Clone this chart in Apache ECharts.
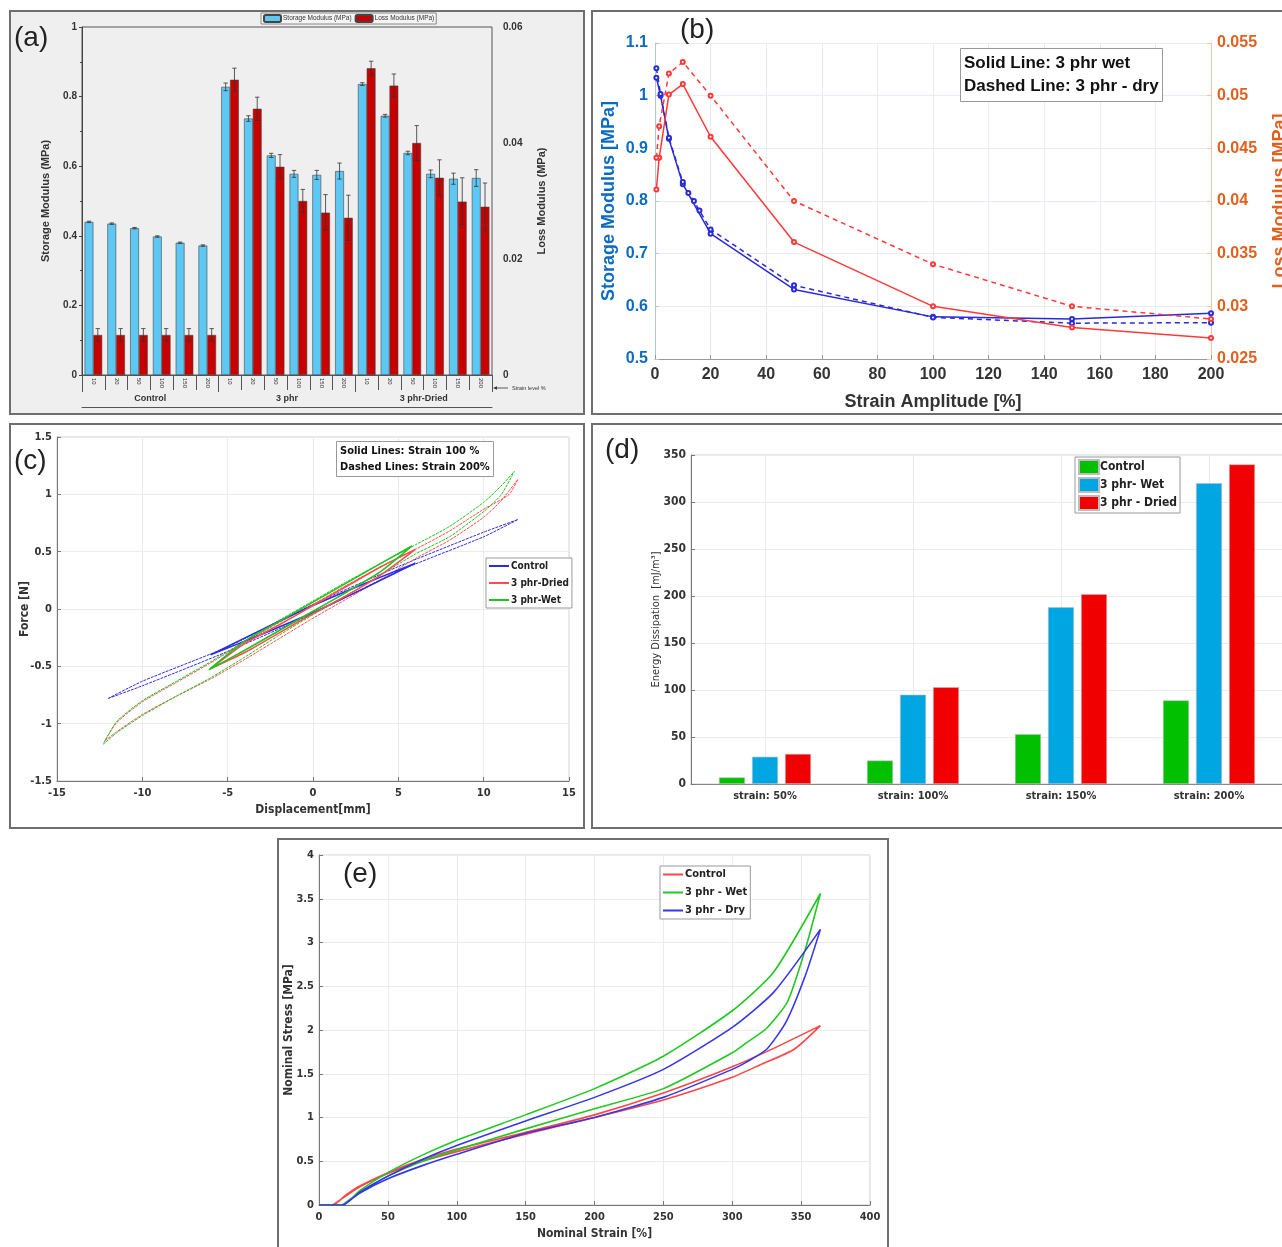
<!DOCTYPE html>
<html>
<head>
<meta charset="utf-8">
<script src="https://cdn.jsdelivr.net/npm/echarts@6/dist/echarts.min.js"></script>
<style>
  html, body { margin: 0; padding: 0; background: #fff; width: 1282px; height: 1247px; overflow: hidden; position: relative; }
  .panel { position: absolute; box-sizing: border-box; border: 2px solid #6e6e6e; overflow: hidden; background: #fff; }
  .panel > div { width: 100%; height: 100%; }
</style>
</head>
<body>
<div class="panel" style="left:9px;top:10px;width:576px;height:405px;background:#efefef"><div id="chartA"></div></div>
<div class="panel" style="left:591px;top:10px;width:700px;height:405px"><div id="chartB"></div></div>
<div class="panel" style="left:9px;top:423px;width:576px;height:406px"><div id="chartC"></div></div>
<div class="panel" style="left:591px;top:423px;width:700px;height:406px"><div id="chartD"></div></div>
<div class="panel" style="left:277px;top:838px;width:612px;height:420px"><div id="chartE"></div></div>
<script>
// ---- (a) DMA bars
const strainLevels = ['10', '20', '50', '100', '150', '200'];
const sampleGroups = ['Control', '3 phr', '3 phr-Dried'];
const storageMod = [0.440, 0.435, 0.422, 0.398, 0.380, 0.372,
                    0.828, 0.737, 0.631, 0.578, 0.575, 0.586,
                    0.836, 0.745, 0.638, 0.578, 0.564, 0.566];
const storageErr = [0.002, 0.002, 0.002, 0.002, 0.002, 0.002,
                    0.011, 0.008, 0.006, 0.010, 0.013, 0.023,
                    0.004, 0.004, 0.005, 0.011, 0.016, 0.024];
const lossMod = [0.0069, 0.0069, 0.0069, 0.0069, 0.0069, 0.0069,
                 0.0509, 0.0459, 0.0359, 0.0300, 0.0280, 0.0271,
                 0.0529, 0.0499, 0.0400, 0.0340, 0.0299, 0.0290];
const lossErr = [0.0011, 0.0011, 0.0011, 0.0011, 0.0011, 0.0011,
                 0.0020, 0.0020, 0.0021, 0.0020, 0.0031, 0.0039,
                 0.0012, 0.0020, 0.0030, 0.0031, 0.0041, 0.0041];

// ---- (b) strain sweep
const storageWet = [[0.5, 1.034], [2, 1.0], [5, 0.918], [10, 0.832], [20, 0.738], [50, 0.632], [100, 0.58], [150, 0.576], [200, 0.587]];
const storageDry = [[0.5, 1.052], [2, 1.003], [5, 0.92], [10, 0.836], [12, 0.815], [14, 0.8], [16, 0.782], [20, 0.746], [50, 0.64], [100, 0.579], [150, 0.568], [200, 0.569]];
const lossWet = [[0.5, 0.0411], [1.5, 0.0441], [5, 0.0501], [10, 0.0511], [20, 0.0461], [50, 0.0361], [100, 0.030], [150, 0.028], [200, 0.027]];
const lossDry = [[0.5, 0.0441], [1.5, 0.0471], [5, 0.0521], [10, 0.0532], [20, 0.050], [50, 0.040], [100, 0.034], [150, 0.030], [200, 0.0288]];

// ---- (c) force-displacement loops
const control100 = [[-6, -0.40], [-3, -0.22], [0, -0.03], [3, 0.18], [6, 0.40], [3, 0.22], [0, 0.03], [-3, -0.18], [-6, -0.40]];
const dried100 = [[-6, -0.52], [-4, -0.38], [-2, -0.21], [0, -0.04], [2, 0.12], [4, 0.30], [6, 0.52], [4, 0.37], [2, 0.20], [0, 0.03], [-2, -0.14], [-4, -0.30], [-6, -0.52]];
const wet100 = [[-6.1, -0.53], [-4, -0.36], [-2, -0.19], [0, -0.02], [2, 0.15], [4, 0.33], [5.8, 0.55], [4, 0.40], [2, 0.23], [0, 0.06], [-2, -0.11], [-4, -0.28], [-6.1, -0.53]];
const control200 = [[-12, -0.78], [-10, -0.67], [-5, -0.37], [0, -0.04], [5, 0.33], [10, 0.63], [12, 0.78], [10, 0.67], [5, 0.37], [0, 0.04], [-5, -0.33], [-10, -0.63], [-12, -0.78]];
const dried200 = [[-12.2, -1.15], [-11.5, -1.07], [-10, -0.92], [-8, -0.76], [-6, -0.61], [-4, -0.44], [-2, -0.26], [0, -0.08], [2, 0.09], [4, 0.26], [6, 0.44], [8, 0.60], [10, 0.80], [11, 0.94], [12, 1.13],
                  [11.5, 1.00], [10, 0.87], [8, 0.68], [6, 0.52], [4, 0.37], [2, 0.21], [0, 0.04], [-2, -0.12], [-4, -0.29], [-6, -0.47], [-8, -0.64], [-10, -0.81], [-11.5, -0.99], [-12.2, -1.15]];
const wet200 = [[-12.3, -1.18], [-11.5, -1.08], [-10, -0.93], [-8, -0.76], [-6, -0.60], [-4, -0.42], [-2, -0.23], [0, -0.05], [2, 0.12], [4, 0.30], [6, 0.48], [8, 0.63], [10, 0.85], [11, 0.99], [11.8, 1.20],
                [11, 1.07], [10, 0.93], [8, 0.72], [6, 0.56], [4, 0.40], [2, 0.24], [0, 0.07], [-2, -0.10], [-4, -0.28], [-6, -0.46], [-8, -0.63], [-10, -0.80], [-11.5, -0.98], [-12.3, -1.18]];

// ---- (d) energy dissipation
const strainCats = ['strain: 50%', 'strain: 100%', 'strain: 150%', 'strain: 200%'];
const energyControl = [7, 25, 53, 89];
const energyWet = [29, 95, 188, 320];
const energyDried = [32, 103, 202, 340];

// ---- (e) stress-strain cycles
const cycleControl = [[0, 0], [10, 0], [20, 0.12], [30, 0.22], [50, 0.37], [75, 0.52], [100, 0.64], [150, 0.83], [200, 1.03], [250, 1.28], [300, 1.58], [330, 1.79], [364, 2.05],
                      [345, 1.78], [320, 1.60], [300, 1.46], [250, 1.20], [200, 1.0], [150, 0.81], [100, 0.61], [75, 0.50], [50, 0.36], [30, 0.21], [10, 0]];
const cycleWet = [[0, 0], [17, 0], [30, 0.17], [50, 0.37], [75, 0.57], [100, 0.74], [150, 1.03], [200, 1.33], [250, 1.70], [300, 2.22], [330, 2.66], [364, 3.56],
                  [353, 2.92], [340, 2.32], [325, 2.02], [310, 1.85], [300, 1.74], [250, 1.33], [200, 1.10], [150, 0.87], [100, 0.63], [75, 0.50], [50, 0.33], [30, 0.15], [17, 0]];
const cycleDry = [[0, 0], [17, 0], [30, 0.15], [50, 0.33], [75, 0.52], [100, 0.68], [150, 0.96], [200, 1.23], [250, 1.55], [300, 2.03], [330, 2.43], [364, 3.15],
                  [353, 2.62], [339, 2.09], [325, 1.78], [310, 1.63], [300, 1.55], [250, 1.23], [200, 1.0], [150, 0.82], [100, 0.58], [75, 0.45], [50, 0.30], [30, 0.14], [18, 0]];

const NARROW = "'Liberation Sans Narrow', 'DejaVu Sans Condensed', 'Liberation Sans', sans-serif";
const ARIAL = "'Liberation Sans', Arial, sans-serif";

function panelLabel(text, left, top) {
  return { text: text, left: left, top: top, padding: 0, textStyle: { fontSize: 28, fontWeight: 'normal', color: '#222', fontFamily: ARIAL } };
}

// error bar drawn at bar centre (offset from category centre)
function errorBars(offset) {
  return function (params, api) {
    const i = api.value(0), v = api.value(1), e = api.value(2);
    const top = api.coord([i, v + e]);
    const bot = api.coord([i, v - e]);
    const x = top[0] + offset;
    const style = { stroke: '#333', lineWidth: 0.8 };
    return {
      type: 'group',
      children: [
        { type: 'line', shape: { x1: x, y1: top[1], x2: x, y2: bot[1] }, style: style },
        { type: 'line', shape: { x1: x - 2.2, y1: top[1], x2: x + 2.2, y2: top[1] }, style: style },
        { type: 'line', shape: { x1: x - 2.2, y1: bot[1], x2: x + 2.2, y2: bot[1] }, style: style }
      ]
    };
  };
}

// ================= (a)
const chartA = echarts.init(document.getElementById('chartA'));
const catLabels = sampleGroups.flatMap(() => strainLevels);
chartA.setOption({
  animation: false,
  title: [panelLabel('(a)', 3, 12)],
  legend: {
    left: 250, top: 1, itemWidth: 17, itemHeight: 7, itemGap: 3,
    borderColor: '#888', borderWidth: 1, padding: [1, 2], backgroundColor: '#f4f4f4',
    textStyle: { fontSize: 6.5, color: '#333', fontFamily: ARIAL, padding: [0, 0, 0, -3] },
    data: ['Storage Modulus (MPa)', 'Loss Modulus (MPa)']
  },
  grid: { left: 71, top: 15, width: 410, height: 348, show: true, borderColor: '#555', borderWidth: 1, outerBoundsMode: 'none' },
  xAxis: [
    {
      type: 'category', data: catLabels, position: 'bottom',
      axisLine: { lineStyle: { color: '#555' } },
      axisTick: { show: true, interval: 0, length: 15, lineStyle: { color: '#555' } },
      axisLabel: { interval: 0, rotate: -90, fontSize: 6, margin: 3, color: '#333', fontFamily: ARIAL }
    },
    {
      type: 'category', data: sampleGroups, position: 'bottom', offset: 15,
      axisLine: { lineStyle: { color: '#555' } },
      axisTick: { show: true, interval: 0, length: 17, lineStyle: { color: '#555' } },
      axisLabel: { interval: 0, fontSize: 9, fontWeight: 'bold', margin: 4, color: '#333', fontFamily: ARIAL }
    },
    {
      type: 'category', data: [''], position: 'bottom', offset: 32,
      axisLine: { lineStyle: { color: '#555' } }, axisTick: { show: false }, axisLabel: { show: false }
    }
  ],
  yAxis: [
    {
      type: 'value', min: 0, max: 1, interval: 0.2, position: 'left',
      axisLine: { show: true, lineStyle: { color: '#444' } },
      axisTick: { show: true, length: 3, lineStyle: { color: '#444' } },
      minorTick: { show: true, splitNumber: 2, length: 2, lineStyle: { color: '#444' } },
      splitLine: { show: false },
      axisLabel: { fontSize: 10, fontWeight: 'bold', margin: 5, color: '#333', fontFamily: ARIAL },
      name: 'Storage Modulus (MPa)', nameLocation: 'middle', nameGap: 31, nameRotate: 90, nameMoveOverlap: false,
      nameTextStyle: { fontSize: 11, fontWeight: 'bold', color: '#333', fontFamily: ARIAL }
    },
    {
      type: 'value', min: 0, max: 0.06, interval: 0.02, position: 'right',
      axisLine: { show: false }, axisTick: { show: false }, splitLine: { show: false },
      axisLabel: { fontSize: 10, fontWeight: 'bold', margin: 11, color: '#333', fontFamily: ARIAL },
      name: 'Loss Modulus (MPa)', nameLocation: 'middle', nameGap: 44, nameRotate: 90, nameMoveOverlap: false,
      nameTextStyle: { fontSize: 11, fontWeight: 'bold', color: '#333', fontFamily: ARIAL }
    }
  ],
  graphic: [
    { type: 'line', shape: { x1: 484, y1: 376, x2: 497, y2: 376 }, style: { stroke: '#333', lineWidth: 0.8 } },
    { type: 'polygon', shape: { points: [[482, 376], [486, 374.3], [486, 377.7]] }, style: { fill: '#333' } },
    { type: 'text', left: 501, top: 373, style: { text: 'Strain level %', fontSize: 5.5, fill: '#333', fontFamily: ARIAL } }
  ],
  series: [
    {
      name: 'Storage Modulus (MPa)', type: 'bar', data: storageMod, xAxisIndex: 0, yAxisIndex: 0,
      barWidth: 8.8, barGap: '0%',
      itemStyle: { color: '#5ec8f5', borderColor: '#444', borderWidth: 0.6 }
    },
    {
      name: 'Loss Modulus (MPa)', type: 'bar', data: lossMod, xAxisIndex: 0, yAxisIndex: 1,
      barWidth: 8.8, barGap: '0%',
      itemStyle: { color: '#c80000', borderColor: '#444', borderWidth: 0.6 }
    },
    {
      type: 'custom', xAxisIndex: 0, yAxisIndex: 0, z: 5,
      renderItem: errorBars(-4.4),
      data: storageMod.map((v, i) => [i, v, storageErr[i]])
    },
    {
      type: 'custom', xAxisIndex: 0, yAxisIndex: 1, z: 5,
      renderItem: errorBars(4.4),
      data: lossMod.map((v, i) => [i, v, lossErr[i]])
    }
  ]
});

// ================= (b)
const BLUE = '#2a2ad8', RED = '#ff3838';
const chartB = echarts.init(document.getElementById('chartB'));
chartB.setOption({
  animation: false,
  title: [
    panelLabel('(b)', 87, 4),
    {
      text: 'Solid Line: 3 phr wet\nDashed Line: 3 phr - dry', left: 367, top: 36,
      borderColor: '#999', borderWidth: 1, padding: [4, 4], backgroundColor: '#fff',
      textStyle: { fontSize: 17, fontWeight: 'bold', color: '#111', lineHeight: 23, fontFamily: ARIAL }
    }
  ],
  grid: { left: 62, top: 31, width: 556, height: 316, outerBoundsMode: 'none' },
  xAxis: {
    type: 'value', min: 0, max: 200, interval: 20,
    axisLine: { lineStyle: { color: '#9a9a9a' } },
    axisTick: { inside: true, length: 4, lineStyle: { color: '#9a9a9a' } },
    splitLine: { show: true, lineStyle: { color: '#e8ecf2' } },
    axisLabel: { fontSize: 16, fontWeight: 'bold', color: '#333', margin: 8, fontFamily: ARIAL },
    name: 'Strain Amplitude [%]', nameLocation: 'middle', nameGap: 34, nameMoveOverlap: false,
    nameTextStyle: { fontSize: 18, fontWeight: 'bold', color: '#333', fontFamily: ARIAL }
  },
  yAxis: [
    {
      type: 'value', min: 0.5, max: 1.1, interval: 0.1, position: 'left',
      axisLine: { show: true, lineStyle: { color: '#a9c8ec' } },
      axisTick: { show: true, inside: true, length: 4, lineStyle: { color: '#a9c8ec' } },
      splitLine: { show: true, lineStyle: { color: '#e8ecf2' } },
      axisLabel: { fontSize: 16, fontWeight: 'bold', color: '#0b6bc2', margin: 7, fontFamily: ARIAL },
      name: 'Storage Modulus [MPa]', nameLocation: 'middle', nameGap: 37, nameRotate: 90, nameMoveOverlap: false,
      nameTextStyle: { fontSize: 18, fontWeight: 'bold', color: '#0b6bc2', fontFamily: ARIAL }
    },
    {
      type: 'value', min: 0.025, max: 0.055, interval: 0.005, position: 'right',
      axisLine: { show: true, lineStyle: { color: '#f9c2a6' } },
      axisTick: { show: true, inside: true, length: 4, lineStyle: { color: '#f9c2a6' } },
      splitLine: { show: false },
      axisLabel: { fontSize: 16, fontWeight: 'bold', color: '#e0601e', margin: 6, fontFamily: ARIAL },
      name: 'Loss Modulus [MPa]', nameLocation: 'middle', nameGap: 60, nameRotate: 90, nameMoveOverlap: false,
      nameTextStyle: { fontSize: 18, fontWeight: 'bold', color: '#e0601e', fontFamily: ARIAL }
    }
  ],
  series: [
    { type: 'line', data: storageWet, yAxisIndex: 0, symbol: 'emptyCircle', symbolSize: 4,
      lineStyle: { color: BLUE, width: 1.5 }, itemStyle: { color: BLUE } },
    { type: 'line', data: storageDry, yAxisIndex: 0, symbol: 'emptyCircle', symbolSize: 4,
      lineStyle: { color: BLUE, width: 1.5, type: [5, 4] }, itemStyle: { color: BLUE } },
    { type: 'line', data: lossWet, yAxisIndex: 1, symbol: 'emptyCircle', symbolSize: 4,
      lineStyle: { color: RED, width: 1.5 }, itemStyle: { color: RED } },
    { type: 'line', data: lossDry, yAxisIndex: 1, symbol: 'emptyCircle', symbolSize: 4,
      lineStyle: { color: RED, width: 1.5, type: [5, 4] }, itemStyle: { color: RED } }
  ]
});

// shared look for the matlab style panels
function mAxis(extra) {
  return Object.assign({
    type: 'value',
    axisLine: { show: true, onZero: false, lineStyle: { color: '#777' } },
    axisTick: { show: true, inside: true, length: 4, lineStyle: { color: '#777' } },
    splitLine: { show: true, lineStyle: { color: '#ebebeb' } },
    nameLocation: 'middle', nameMoveOverlap: false,
    nameTextStyle: { fontSize: 12, fontWeight: 'bold', color: '#333', fontFamily: NARROW }
  }, extra);
}
const mLabel = { fontSize: 11, fontWeight: 'bold', color: '#333', fontFamily: NARROW };
function lineLegend(left, top, names, fontSize) {
  return {
    orient: 'vertical', left: left, top: top, icon: 'rect', itemWidth: 20, itemHeight: 2, itemGap: 7,
    borderColor: '#999', borderWidth: 1, padding: [3, 3], backgroundColor: '#fff',
    textStyle: { fontSize: fontSize, fontWeight: 'bold', color: '#222', fontFamily: NARROW, padding: [0, 0, 0, -3] },
    data: names
  };
}

// ================= (c)
const cBlue = '#2b2bea', cRed = '#ff4d4d', cGreen = '#1fc41f';
const chartC = echarts.init(document.getElementById('chartC'));
chartC.setOption({
  animation: false,
  title: [
    panelLabel('(c)', 3, 22),
    {
      text: 'Solid Lines: Strain 100 %\nDashed Lines: Strain 200%', left: 325, top: 16,
      borderColor: '#999', borderWidth: 1, padding: [2, 4], backgroundColor: '#fff',
      textStyle: { fontSize: 11, fontWeight: 'bold', color: '#111', lineHeight: 16, fontFamily: NARROW }
    }
  ],
  legend: lineLegend(475, 133, ['Control', '3 phr-Dried', '3 phr-Wet'], 10),
  grid: { left: 46, top: 12, width: 512, height: 344, show: true, borderColor: '#cfcfcf', outerBoundsMode: 'none' },
  xAxis: mAxis({ min: -15, max: 15, interval: 5, axisLabel: Object.assign({ margin: 7 }, mLabel),
    name: 'Displacement[mm]', nameGap: 23 }),
  yAxis: mAxis({ min: -1.5, max: 1.5, interval: 0.5, axisLabel: Object.assign({ margin: 5 }, mLabel),
    name: 'Force [N]', nameGap: 26 }),
  series: [
    { name: 'Control', type: 'line', data: control200, symbol: 'none', smooth: 0.2, lineStyle: { color: cBlue, width: 1, type: [3, 1] }, itemStyle: { color: cBlue } },
    { name: '3 phr-Dried', type: 'line', data: dried200, symbol: 'none', smooth: 0.2, lineStyle: { color: cRed, width: 1, type: [3, 1] }, itemStyle: { color: cRed } },
    { name: '3 phr-Wet', type: 'line', data: wet200, symbol: 'none', smooth: 0.2, lineStyle: { color: cGreen, width: 1, type: [3, 1] }, itemStyle: { color: cGreen } },
    { name: 'Control', type: 'line', data: control100, symbol: 'none', smooth: 0.2, lineStyle: { color: cBlue, width: 1.6 }, itemStyle: { color: cBlue } },
    { name: '3 phr-Dried', type: 'line', data: dried100, symbol: 'none', smooth: 0.2, lineStyle: { color: cRed, width: 1.6 }, itemStyle: { color: cRed } },
    { name: '3 phr-Wet', type: 'line', data: wet100, symbol: 'none', smooth: 0.2, lineStyle: { color: cGreen, width: 1.6 }, itemStyle: { color: cGreen } }
  ]
});

// ================= (d)
const chartD = echarts.init(document.getElementById('chartD'));
chartD.setOption({
  animation: false,
  title: [panelLabel('(d)', 12, 11)],
  legend: {
    orient: 'vertical', left: 482, top: 32, itemWidth: 20, itemHeight: 14, itemGap: 2, icon: 'rect',
    borderColor: '#999', borderWidth: 1, padding: [2, 3], backgroundColor: '#fff',
    textStyle: { fontSize: 12, fontWeight: 'bold', color: '#222', fontFamily: NARROW, padding: [0, 0, 0, -4] },
    data: ['Control', '3 phr- Wet', '3 phr - Dried']
  },
  grid: { left: 98, top: 30, width: 592, height: 329, show: true, borderColor: '#cfcfcf', outerBoundsMode: 'none' },
  xAxis: {
    type: 'category', data: strainCats,
    axisLine: { lineStyle: { color: '#888' } }, axisTick: { show: false },
    splitLine: { show: true, alignWithLabel: true, lineStyle: { color: '#ebebeb' } },
    axisLabel: Object.assign({ margin: 7 }, mLabel)
  },
  yAxis: mAxis({
    min: 0, max: 350, interval: 50,
    axisLabel: { fontSize: 12, fontWeight: 'bold', color: '#333', fontFamily: NARROW, margin: 5 },
    name: 'Energy Dissipation  [mJ/m³]', nameGap: 29,
    nameTextStyle: { fontSize: 11, color: '#333', fontFamily: NARROW }
  }),
  series: [
    { name: 'Control', type: 'bar', data: energyControl, barWidth: 26, barGap: '27%',
      itemStyle: { color: '#00c000', borderColor: '#bdbdbd', borderWidth: 0.6 } },
    { name: '3 phr- Wet', type: 'bar', data: energyWet, barWidth: 26, barGap: '27%',
      itemStyle: { color: '#00a6e2', borderColor: '#bdbdbd', borderWidth: 0.6 } },
    { name: '3 phr - Dried', type: 'bar', data: energyDried, barWidth: 26, barGap: '27%',
      itemStyle: { color: '#f00000', borderColor: '#bdbdbd', borderWidth: 0.6 } }
  ]
});

// ================= (e)
const eRed = '#ff4545', eGreen = '#22c822', eBlue = '#3636ec';
const chartE = echarts.init(document.getElementById('chartE'));
chartE.setOption({
  animation: false,
  title: [panelLabel('(e)', 64, 20)],
  legend: lineLegend(381, 26, ['Control', '3 phr - Wet', '3 phr - Dry'], 11),
  grid: { left: 40, top: 15, width: 551, height: 350, show: true, borderColor: '#cfcfcf', outerBoundsMode: 'none' },
  xAxis: mAxis({ min: 0, max: 400, interval: 50, axisLabel: Object.assign({ margin: 7 }, mLabel),
    name: 'Nominal Strain [%]', nameGap: 23 }),
  yAxis: mAxis({ min: 0, max: 4, interval: 0.5, axisLabel: Object.assign({ margin: 5 }, mLabel),
    name: 'Nominal Stress [MPa]', nameGap: 24 }),
  series: [
    { name: 'Control', type: 'line', data: cycleControl, symbol: 'none', smooth: 0.2, lineStyle: { color: eRed, width: 1.6 }, itemStyle: { color: eRed } },
    { name: '3 phr - Wet', type: 'line', data: cycleWet, symbol: 'none', smooth: 0.2, lineStyle: { color: eGreen, width: 1.6 }, itemStyle: { color: eGreen } },
    { name: '3 phr - Dry', type: 'line', data: cycleDry, symbol: 'none', smooth: 0.2, lineStyle: { color: eBlue, width: 1.6 }, itemStyle: { color: eBlue } }
  ]
});
</script>
</body>
</html>
